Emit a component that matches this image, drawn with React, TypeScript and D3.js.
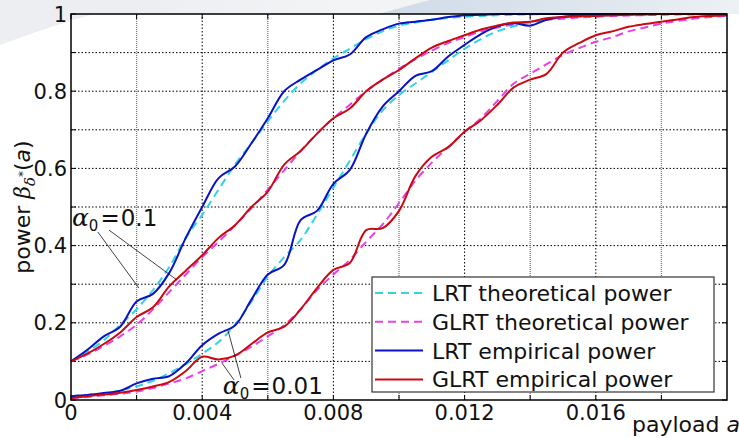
import React from "react";
import * as d3 from "d3";

// payload a (x grid)
const payload = [
  0, 0.0005, 0.001, 0.0015, 0.002, 0.0025, 0.003, 0.0035, 0.004, 0.0045,
  0.005, 0.0055, 0.006, 0.0065, 0.007, 0.0075, 0.008, 0.0085, 0.009, 0.0095,
  0.01, 0.0105, 0.011, 0.0115, 0.012, 0.0125, 0.013, 0.0135, 0.014, 0.0145,
  0.015, 0.0155, 0.016, 0.0165, 0.017, 0.0175, 0.018, 0.0185, 0.019, 0.0195, 0.02,
];

// alpha0 = 0.1
const lrtTheory01 = [
  0.1, 0.125, 0.155, 0.195, 0.235, 0.285, 0.345, 0.42, 0.48, 0.545,
  0.61, 0.665, 0.722, 0.775, 0.82, 0.855, 0.885, 0.91, 0.935, 0.955,
  0.97, 0.978, 0.985, 0.99, 0.993, 0.995, 0.997, 0.998, 0.999, 1,
  1, 1, 1, 1, 1, 1, 1, 1, 1, 1, 1,
];
const glrtTheory01 = [
  0.1, 0.118, 0.14, 0.165, 0.195, 0.235, 0.28, 0.325, 0.37, 0.41,
  0.452, 0.497, 0.545, 0.595, 0.645, 0.69, 0.73, 0.765, 0.8, 0.83,
  0.858, 0.883, 0.905, 0.925, 0.94, 0.955, 0.965, 0.973, 0.98, 0.985,
  0.988, 0.991, 0.993, 0.995, 0.996, 0.997, 0.998, 0.999, 0.999, 1, 1,
];
const lrtEmp01 = [
  0.1, 0.13, 0.165, 0.19, 0.255, 0.275, 0.33, 0.42, 0.5, 0.575,
  0.605, 0.665, 0.73, 0.8, 0.83, 0.855, 0.88, 0.895, 0.94, 0.96,
  0.975, 0.98, 0.985, 0.992, 0.997, 0.998, 1, 1, 1, 1,
  1, 1, 1, 1, 1, 1, 1, 1, 1, 1, 1,
];
const glrtEmp01 = [
  0.1, 0.12, 0.145, 0.175, 0.215, 0.24, 0.295, 0.335, 0.375, 0.42,
  0.453, 0.5, 0.54, 0.61, 0.645, 0.69, 0.73, 0.755, 0.8, 0.83,
  0.855, 0.885, 0.913, 0.93, 0.945, 0.96, 0.97, 0.978, 0.98, 0.989,
  0.992, 0.994, 0.995, 0.997, 0.998, 0.999, 1, 1, 1, 1, 1,
];

// alpha0 = 0.01
const lrtTheory001 = [
  0.01, 0.013, 0.017, 0.025, 0.035, 0.05, 0.07, 0.093, 0.12, 0.15,
  0.195, 0.255, 0.32, 0.37, 0.415, 0.48, 0.55, 0.62, 0.69, 0.75,
  0.79, 0.82, 0.85, 0.88, 0.91, 0.935, 0.955, 0.968, 0.978, 0.985,
  0.99, 0.993, 0.995, 0.997, 0.998, 0.999, 1, 1, 1, 1, 1,
];
const glrtTheory001 = [
  0.005, 0.008, 0.012, 0.016, 0.022, 0.031, 0.043, 0.056, 0.075, 0.094,
  0.115, 0.138, 0.165, 0.194, 0.235, 0.285, 0.325, 0.363, 0.41, 0.455,
  0.51, 0.568, 0.615, 0.655, 0.695, 0.73, 0.775, 0.82, 0.845, 0.87,
  0.894, 0.912, 0.928, 0.94, 0.955, 0.965, 0.975, 0.982, 0.988, 0.992, 0.995,
];
const lrtEmp001 = [
  0.01, 0.013, 0.018, 0.024, 0.043, 0.055, 0.062, 0.095, 0.142, 0.172,
  0.193, 0.26, 0.325, 0.35, 0.466, 0.49, 0.56, 0.596, 0.69, 0.76,
  0.8, 0.84, 0.852, 0.89, 0.92, 0.948, 0.968, 0.976, 0.97, 0.985,
  0.993, 0.996, 0.998, 0.999, 1, 1, 1, 1, 1, 1, 1,
];
const glrtEmp001 = [
  0.005, 0.01, 0.014, 0.019, 0.026, 0.035, 0.047, 0.075, 0.112, 0.105,
  0.115, 0.145, 0.175, 0.19, 0.235, 0.29, 0.337, 0.355, 0.44, 0.445,
  0.49, 0.58, 0.63, 0.655, 0.695, 0.725, 0.765, 0.81, 0.83, 0.845,
  0.9, 0.925, 0.945, 0.955, 0.967, 0.974, 0.98, 0.986, 0.992, 0.995, 0.997,
];

const xTicks = [0, 0.004, 0.008, 0.012, 0.016];
const xTickLabels = ["0", "0.004", "0.008", "0.012", "0.016"];
const xMinor = [0.002, 0.006, 0.01, 0.014, 0.018];
const yTicks = [0, 0.2, 0.4, 0.6, 0.8, 1];
const yTickLabels = ["0", "0.2", "0.4", "0.6", "0.8", "1"];
const yGrid = [0.1, 0.2, 0.3, 0.4, 0.5, 0.6, 0.7, 0.8, 0.9];
const legendLabels = [
  "LRT theoretical power",
  "GLRT theoretical power",
  "LRT empirical power",
  "GLRT empirical power",
];

const CYAN = "#30d4e2";
const MAGENTA = "#e640e6";
const BLUE = "#0a12c4";
const RED = "#c80a12";

const W = 739, H = 438;
const X0 = 71, X1 = 727, Y0 = 400, Y1 = 14;
const FONT = "DejaVu Sans";
const MATH = "DejaVu Serif";

export default function App() {
  const x = d3.scaleLinear().domain([0, 0.02]).range([X0, X1]);
  const y = d3.scaleLinear().domain([0, 1]).range([Y0, Y1]);
  const line = d3
    .line<number>()
    .x((_, i) => x(payload[i]))
    .y((d) => y(d))
    .curve(d3.curveCatmullRom.alpha(0.5));

  const dashed = [
    { v: lrtTheory01, c: CYAN },
    { v: lrtTheory001, c: CYAN },
    { v: glrtTheory01, c: MAGENTA },
    { v: glrtTheory001, c: MAGENTA },
  ];
  const solid = [
    { v: lrtEmp01, c: BLUE },
    { v: lrtEmp001, c: BLUE },
    { v: glrtEmp01, c: RED },
    { v: glrtEmp001, c: RED },
  ];
  const legendStyle = [
    { c: CYAN, dash: "8,5" },
    { c: MAGENTA, dash: "8,5" },
    { c: BLUE, dash: null },
    { c: RED, dash: null },
  ];

  // leader lines for the annotations, in data coords
  const leaders = [
    [0.00082, 0.435, 0.00207, 0.29],
    [0.00116, 0.44, 0.00323, 0.311],
    [0.00479, 0.179, 0.00518, 0.057],
    [0.0046, 0.096, 0.00497, 0.052],
  ];

  const alphaLabel = (val: string) => [
    <tspan key="a" fontFamily={MATH} fontStyle="italic" fontSize={25}>α</tspan>,
    <tspan key="s" fontSize={15} dy={5}>0</tspan>,
    <tspan key="e" dy={-5} dx={2}>=</tspan>,
    <tspan key="v" dx={1}>{val}</tspan>,
  ];

  return (
    <svg
      width={W}
      height={H}
      style={{ position: "absolute", left: 0, top: 0, background: "#fff" }}
    >
      <defs>
        <linearGradient id="band" x1="0" x2="1" y1="0" y2="0">
          <stop offset="0" stopColor="#e8ebef" />
          <stop offset="0.5" stopColor="#f3f4f6" />
          <stop offset="1" stopColor="#eceff2" />
        </linearGradient>
        <linearGradient id="swoosh" x1="0" x2="1" y1="0" y2="0">
          <stop offset="0" stopColor="#cfdbe8" />
          <stop offset="0.6" stopColor="#dfe6ee" />
          <stop offset="1" stopColor="#eef1f4" />
        </linearGradient>
      </defs>
      <rect x={0} y={0} width={W} height={H} fill="#fff" />
      <path d={`M0,0 H${W} V14 H0 Z`} fill="url(#band)" />
      <path d="M0,0 H150 C100,10 40,30 0,45 Z" fill="#eceef1" />
      <path d="M378,14 L430,0 H739 V14 Z" fill="url(#swoosh)" />

      {/* grid */}
      {yGrid.map((g) => (
        <line key={"h" + g} x1={X0} x2={X1} y1={y(g)} y2={y(g)}
          stroke="#000" strokeWidth={1} strokeDasharray="1.5,2" />
      ))}
      {xMinor.map((g) => (
        <line key={"vm" + g} x1={x(g)} x2={x(g)} y1={Y0} y2={Y1}
          stroke="#777" strokeWidth={1.3} strokeDasharray="1,1" />
      ))}
      {xTicks.slice(1).map((g) => (
        <line key={"vM" + g} x1={x(g)} x2={x(g)} y1={Y0} y2={Y1}
          stroke="#000" strokeWidth={1} strokeDasharray="1.5,2" />
      ))}

      {/* ticks */}
      {[...xTicks, ...xMinor].map((t) => (
        <g key={"xt" + t}>
          <line x1={x(t)} x2={x(t)} y1={Y0} y2={Y0 - 5} stroke="#000" />
          <line x1={x(t)} x2={x(t)} y1={Y1} y2={Y1 + 5} stroke="#000" />
        </g>
      ))}
      {[0, ...yGrid, 1].map((t) => (
        <g key={"yt" + t}>
          <line x1={X0} x2={X0 + 5} y1={y(t)} y2={y(t)} stroke="#000" />
          <line x1={X1} x2={X1 - 5} y1={y(t)} y2={y(t)} stroke="#000" />
        </g>
      ))}

      {/* curves */}
      {dashed.map((s, i) => (
        <path key={"d" + i} d={line(s.v) ?? ""} fill="none" stroke={s.c}
          strokeWidth={2} strokeDasharray="8,5" />
      ))}
      {solid.map((s, i) => (
        <path key={"s" + i} d={line(s.v) ?? ""} fill="none" stroke={s.c}
          strokeWidth={2} />
      ))}

      {/* frame */}
      <rect x={X0} y={Y1} width={X1 - X0} height={Y0 - Y1} fill="none"
        stroke="#000" strokeWidth={1.5} />

      {/* tick labels */}
      {xTicks.map((t, i) => (
        <text key={"xl" + t} x={x(t)} y={420} textAnchor="middle"
          fontFamily={FONT} fontSize={21} fill="#111">
          {xTickLabels[i]}
        </text>
      ))}
      {yTicks.map((t, i) => (
        <text key={"yl" + t} x={67} y={y(t) + 7.5} textAnchor="end"
          fontFamily={FONT} fontSize={21} fill="#111">
          {yTickLabels[i]}
        </text>
      ))}

      {/* axis labels */}
      <text transform="translate(30,207) rotate(-90)" textAnchor="middle"
        fontFamily={FONT} fontSize={22} fill="#111">
        <tspan>power </tspan>
        <tspan fontFamily={MATH} fontStyle="italic">β</tspan>
        <tspan fontFamily={MATH} fontStyle="italic" fontSize={15} dy={5}>δ</tspan>
        <tspan fontSize={12} dy={-8}>*</tspan>
        <tspan dy={3}>(</tspan>
        <tspan fontStyle="italic">a</tspan>
        <tspan>)</tspan>
      </text>
      <text x={632} y={432} fontFamily={FONT} fontSize={22} fill="#111">
        payload <tspan fontStyle="italic">a</tspan>
      </text>

      {/* annotations */}
      {leaders.map((l, i) => (
        <line key={"ld" + i} x1={x(l[0])} y1={y(l[1])} x2={x(l[2])} y2={y(l[3])}
          stroke="#111" strokeWidth={0.8} />
      ))}
      <text x={x(0.00003)} y={y(0.451)} fontFamily={FONT} fontSize={23} fill="#111">
        {alphaLabel("0.1")}
      </text>
      <text x={x(0.00463)} y={y(0.016)} fontFamily={FONT} fontSize={23} fill="#111">
        {alphaLabel("0.01")}
      </text>

      {/* legend */}
      <rect x={372} y={277} width={342} height={115} fill="#fff" stroke="#333" strokeWidth={1.2} />
      {legendLabels.map((lab, i) => {
        const ly = 293 + i * 28.8;
        const st = legendStyle[i];
        return (
          <g key={"lg" + i}>
            <line x1={375} x2={423} y1={ly} y2={ly} stroke={st.c} strokeWidth={2}
              strokeDasharray={st.dash ?? undefined} />
            <text x={432} y={ly + 8} fontFamily={FONT} fontSize={22} fill="#111">
              {lab}
            </text>
          </g>
        );
      })}
    </svg>
  );
}
